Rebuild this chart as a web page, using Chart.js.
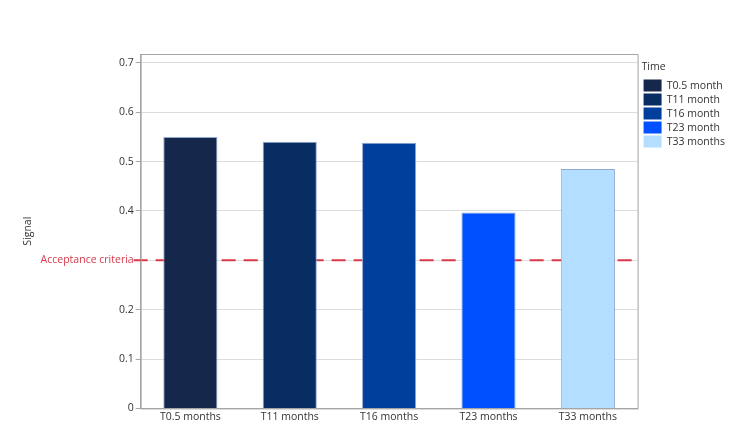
<!DOCTYPE html>
<html>
<head>
<meta charset="utf-8">
<script src="https://cdn.jsdelivr.net/npm/chart.js@4"></script>
<style>
  html, body { margin: 0; padding: 0; background: #fff; }
  #wrap { width: 743px; height: 441px; }
</style>
</head>
<body>
<div id="wrap"><canvas class="js-chart"></canvas></div>
<script>
const timepoints = ['T0.5 months', 'T11 months', 'T16 months', 'T23 months', 'T33 months'];
const legendNames = ['T0.5 month', 'T11 month', 'T16 month', 'T23 month', 'T33 months'];
const signal = [0.55, 0.54, 0.538, 0.397, 0.485];
const barColors = ['#15284b', '#082d63', '#003f9b', '#0050ff', '#b3deff'];
const yTicks = [0, 0.1, 0.2, 0.3, 0.4, 0.5, 0.6, 0.7];
const ACCEPTANCE = 0.3;
const ACCEPTANCE_LABEL = 'Acceptance criteria';

const FONT = "'Open Sans', 'Noto Sans', sans-serif";
Chart.defaults.font.family = FONT;
Chart.defaults.font.size = 10.5;
Chart.defaults.color = '#333';

const isAcceptance = v => Math.abs(v - ACCEPTANCE) < 1e-6;

// dashed acceptance line + frame around plot area
const acceptanceLine = {
    id: 'acceptanceLine',
    afterLayout(chart) {
        // small gap between plot frame and legend
        chart.legend.left += 4;
        chart.legend.right += 4;
    },
    beforeDatasetsDraw(chart) {
        const { ctx, chartArea, scales } = chart;
        const y = scales.y.getPixelForValue(ACCEPTANCE);
        ctx.save();
        ctx.strokeStyle = '#d9384a';
        ctx.lineWidth = 2;
        ctx.setLineDash([14, 8]);
        ctx.beginPath();
        ctx.moveTo(chartArea.left - 7, y);
        ctx.lineTo(chartArea.right, y);
        ctx.stroke();
        ctx.restore();
    },
    afterDraw(chart) {
        const { ctx, chartArea } = chart;
        ctx.save();
        ctx.strokeStyle = '#a6a6a6';
        ctx.lineWidth = 1;
        ctx.strokeRect(chartArea.left + 0.5, chartArea.top + 0.5,
            chartArea.right - chartArea.left, chartArea.bottom - chartArea.top);
        ctx.restore();
    }
};

new Chart(document.querySelector('.js-chart'), {
    type: 'bar',
    data: {
        labels: timepoints,
        datasets: [{
            label: 'Signal',
            data: signal,
            backgroundColor: barColors,
            borderColor: '#8fa9d4',
            borderWidth: 1,
            barPercentage: 0.545,
            categoryPercentage: 1
        }]
    },
    options: {
        responsive: true,
        maintainAspectRatio: false,
        animation: false,
        layout: { padding: { top: 54, left: 22, right: 12, bottom: 16 } },
        plugins: {
            tooltip: { enabled: false },
            legend: {
                position: 'right',
                align: 'start',
                title: { display: true, text: 'Time', position: 'start', padding: { top: 8, bottom: 3 }, color: '#333' },
                labels: {
                    boxWidth: 18,
                    boxHeight: 12,
                    padding: 2,
                    color: '#333',
                    generateLabels(chart) {
                        return legendNames.map((name, i) => ({
                            text: name,
                            fillStyle: barColors[i],
                            strokeStyle: barColors[i],
                            lineWidth: 0,
                            hidden: false,
                            index: i
                        }));
                    }
                }
            }
        },
        scales: {
            x: {
                grid: { display: false, drawTicks: false },
                border: { color: '#a6a6a6' },
                ticks: { color: '#333', padding: 2, maxRotation: 0 }
            },
            y: {
                min: 0,
                max: 0.718,
                border: { color: '#a6a6a6' },
                afterBuildTicks(axis) {
                    axis.ticks = yTicks.map(v => ({ value: v }));
                },
                grid: {
                    color: '#dcdcdc',
                    tickColor: '#a6a6a6',
                    tickLength: 5
                },
                ticks: {
                    padding: 2,
                    color: ctx => isAcceptance(ctx.tick.value) ? '#d9384a' : '#333',
                    callback(value) {
                        if (isAcceptance(value)) return ACCEPTANCE_LABEL;
                        return value === 0 ? '0' : value.toFixed(1);
                    }
                },
                title: { display: true, text: 'Signal', color: '#333', padding: { top: 0, bottom: 4 } }
            }
        }
    },
    plugins: [acceptanceLine]
});
</script>
</body>
</html>
